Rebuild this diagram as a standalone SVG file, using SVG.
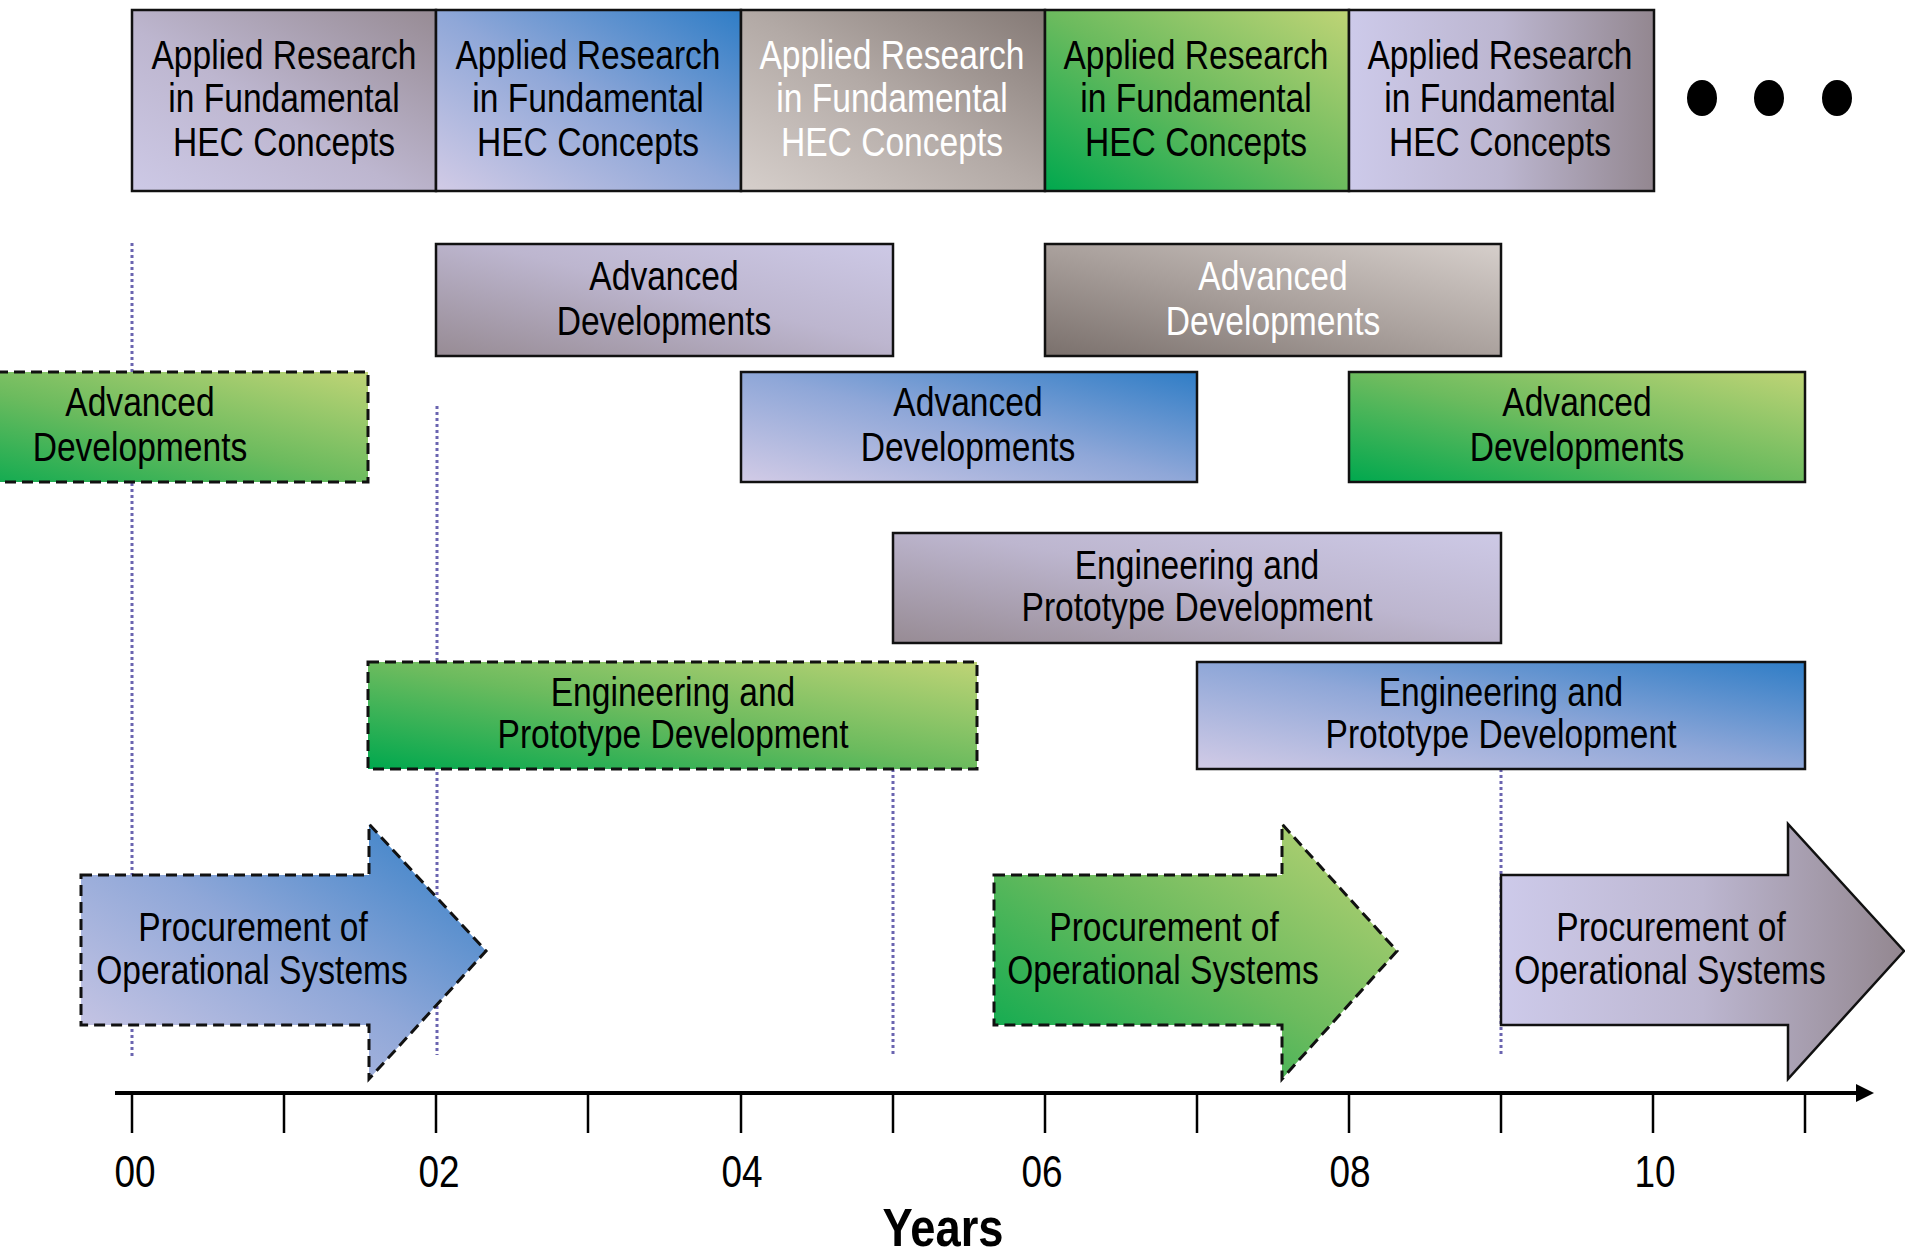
<svg xmlns="http://www.w3.org/2000/svg" width="1905" height="1257" viewBox="0 0 1905 1257">
<style>
  text { font-family: "Liberation Sans", Arial, sans-serif; font-size: 40px; text-anchor: middle; fill: #000; }
  .t { transform-box: fill-box; transform-origin: center; transform: scaleX(0.84); }
  .w { fill: #fff; }
  .solid { stroke: #111; stroke-width: 2.5; }
  .dash { stroke: #111; stroke-width: 3; stroke-dasharray: 11 6; }
  .guide { stroke: #6a64b0; stroke-width: 3; stroke-dasharray: 3 3; fill: none; }
  .yr { font-size: 44px; }
  .years { font-size: 54px; font-weight: bold; }
</style>
<defs>
  <linearGradient id="gLavA" x1="0" y1="1" x2="1" y2="0">
    <stop offset="0" stop-color="#cdc9e6"/><stop offset="0.45" stop-color="#bdb6cf"/><stop offset="1" stop-color="#978b94"/>
  </linearGradient>
  <linearGradient id="gLavB" x1="0" y1="1" x2="1" y2="0">
    <stop offset="0" stop-color="#978b94"/><stop offset="0.55" stop-color="#bdb6cf"/><stop offset="1" stop-color="#cdc9e6"/>
  </linearGradient>
  <linearGradient id="gLavH" x1="0" y1="0" x2="1" y2="0">
    <stop offset="0" stop-color="#cdcaea"/><stop offset="0.5" stop-color="#bcb6d0"/><stop offset="1" stop-color="#938790"/>
  </linearGradient>
  <linearGradient id="gBlue" x1="0" y1="1" x2="1" y2="0">
    <stop offset="0" stop-color="#d2cbe6"/><stop offset="0.5" stop-color="#8fa7d8"/><stop offset="1" stop-color="#2f7dc6"/>
  </linearGradient>
  <linearGradient id="gGreen" x1="0" y1="1" x2="1" y2="0">
    <stop offset="0" stop-color="#00a84e"/><stop offset="0.5" stop-color="#6cbb5e"/><stop offset="1" stop-color="#bfd476"/>
  </linearGradient>
  <linearGradient id="gBrownA" x1="0" y1="1" x2="1" y2="0">
    <stop offset="0" stop-color="#d6cfcb"/><stop offset="0.5" stop-color="#b3aaa6"/><stop offset="1" stop-color="#857a76"/>
  </linearGradient>
  <linearGradient id="gBrownB" x1="0" y1="1" x2="1" y2="0">
    <stop offset="0" stop-color="#7a706c"/><stop offset="0.5" stop-color="#aaa19d"/><stop offset="1" stop-color="#d6cfcb"/>
  </linearGradient>
</defs>
<rect width="1905" height="1257" fill="#fff"/>

<g id="gridlines">
  <line class="guide" x1="132" y1="243" x2="132" y2="1057"/>
  <line class="guide" x1="437" y1="406" x2="437" y2="1055"/>
  <line class="guide" x1="893" y1="769" x2="893" y2="1055"/>
  <line class="guide" x1="1501" y1="769" x2="1501" y2="1055"/>
</g>

<g id="research1">
  <rect x="132" y="10" width="304" height="181" fill="url(#gLavA)" class="solid"/>
  <text class="t" x="284" y="69">Applied Research</text>
  <text class="t" x="284" y="112">in Fundamental</text>
  <text class="t" x="284" y="156">HEC Concepts</text>
</g>
<g id="research2">
  <rect x="436" y="10" width="305" height="181" fill="url(#gBlue)" class="solid"/>
  <text class="t" x="588" y="69">Applied Research</text>
  <text class="t" x="588" y="112">in Fundamental</text>
  <text class="t" x="588" y="156">HEC Concepts</text>
</g>
<g id="research3">
  <rect x="741" y="10" width="304" height="181" fill="url(#gBrownA)" class="solid"/>
  <text class="t w" x="892" y="69">Applied Research</text>
  <text class="t w" x="892" y="112">in Fundamental</text>
  <text class="t w" x="892" y="156">HEC Concepts</text>
</g>
<g id="research4">
  <rect x="1045" y="10" width="304" height="181" fill="url(#gGreen)" class="solid"/>
  <text class="t" x="1196" y="69">Applied Research</text>
  <text class="t" x="1196" y="112">in Fundamental</text>
  <text class="t" x="1196" y="156">HEC Concepts</text>
</g>
<g id="research5">
  <rect x="1349" y="10" width="305" height="181" fill="url(#gLavH)" class="solid"/>
  <text class="t" x="1500" y="69">Applied Research</text>
  <text class="t" x="1500" y="112">in Fundamental</text>
  <text class="t" x="1500" y="156">HEC Concepts</text>
</g>
<g id="ellipsis" fill="#000">
  <ellipse cx="1702" cy="98" rx="15" ry="18"/>
  <ellipse cx="1769" cy="98" rx="15" ry="18"/>
  <ellipse cx="1837" cy="98" rx="15" ry="18"/>
</g>

<g id="adv-a">
  <rect x="436" y="244" width="457" height="112" fill="url(#gLavB)" class="solid"/>
  <text class="t" x="664" y="290">Advanced</text>
  <text class="t" x="664" y="335">Developments</text>
</g>
<g id="adv-b">
  <rect x="1045" y="244" width="456" height="112" fill="url(#gBrownB)" class="solid"/>
  <text class="t w" x="1273" y="290">Advanced</text>
  <text class="t w" x="1273" y="335">Developments</text>
</g>
<g id="adv-c">
  <rect x="-88" y="372" width="456" height="110" fill="url(#gGreen)" class="dash"/>
  <text class="t" x="140" y="416">Advanced</text>
  <text class="t" x="140" y="461">Developments</text>
</g>
<g id="adv-d">
  <rect x="741" y="372" width="456" height="110" fill="url(#gBlue)" class="solid"/>
  <text class="t" x="968" y="416">Advanced</text>
  <text class="t" x="968" y="461">Developments</text>
</g>
<g id="adv-e">
  <rect x="1349" y="372" width="456" height="110" fill="url(#gGreen)" class="solid"/>
  <text class="t" x="1577" y="416">Advanced</text>
  <text class="t" x="1577" y="461">Developments</text>
</g>

<g id="eng-f">
  <rect x="893" y="533" width="608" height="110" fill="url(#gLavB)" class="solid"/>
  <text class="t" x="1197" y="579">Engineering and</text>
  <text class="t" x="1197" y="621">Prototype Development</text>
</g>
<g id="eng-g">
  <rect x="368" y="662" width="609" height="107" fill="url(#gGreen)" class="dash"/>
  <text class="t" x="673" y="706">Engineering and</text>
  <text class="t" x="673" y="748">Prototype Development</text>
</g>
<g id="eng-h">
  <rect x="1197" y="662" width="608" height="107" fill="url(#gBlue)" class="solid"/>
  <text class="t" x="1501" y="706">Engineering and</text>
  <text class="t" x="1501" y="748">Prototype Development</text>
</g>

<g id="proc-1">
  <path d="M81,875 H369 V824 L486,951 L369,1079 V1025 H81 Z" fill="url(#gBlue)" class="dash"/>
  <text class="t" x="253" y="941">Procurement of</text>
  <text class="t" x="252" y="984">Operational Systems</text>
</g>
<g id="proc-2">
  <path d="M994,875 H1282 V824 L1397,951 L1282,1079 V1025 H994 Z" fill="url(#gGreen)" class="dash"/>
  <text class="t" x="1164" y="941">Procurement of</text>
  <text class="t" x="1163" y="984">Operational Systems</text>
</g>
<g id="proc-3">
  <path d="M1501,875 H1788 V824 L1904,951 L1788,1079 V1025 H1501 Z" fill="url(#gLavH)" class="solid"/>
  <text class="t" x="1671" y="941">Procurement of</text>
  <text class="t" x="1670" y="984">Operational Systems</text>
</g>

<g id="axis">
  <line x1="115" y1="1093" x2="1858" y2="1093" stroke="#000" stroke-width="4"/>
  <path d="M1856,1084 L1874,1093 L1856,1102 Z" fill="#000"/>
  <g stroke="#000" stroke-width="2.5">
    <line x1="132" y1="1093" x2="132" y2="1133"/>
    <line x1="284" y1="1093" x2="284" y2="1133"/>
    <line x1="436" y1="1093" x2="436" y2="1133"/>
    <line x1="588" y1="1093" x2="588" y2="1133"/>
    <line x1="741" y1="1093" x2="741" y2="1133"/>
    <line x1="893" y1="1093" x2="893" y2="1133"/>
    <line x1="1045" y1="1093" x2="1045" y2="1133"/>
    <line x1="1197" y1="1093" x2="1197" y2="1133"/>
    <line x1="1349" y1="1093" x2="1349" y2="1133"/>
    <line x1="1501" y1="1093" x2="1501" y2="1133"/>
    <line x1="1653" y1="1093" x2="1653" y2="1133"/>
    <line x1="1805" y1="1093" x2="1805" y2="1133"/>
  </g>
  <text class="t yr" x="135" y="1187">00</text>
  <text class="t yr" x="439" y="1187">02</text>
  <text class="t yr" x="742" y="1187">04</text>
  <text class="t yr" x="1042" y="1187">06</text>
  <text class="t yr" x="1350" y="1187">08</text>
  <text class="t yr" x="1655" y="1187">10</text>
  <text class="t years" x="943" y="1246">Years</text>
</g>
</svg>
